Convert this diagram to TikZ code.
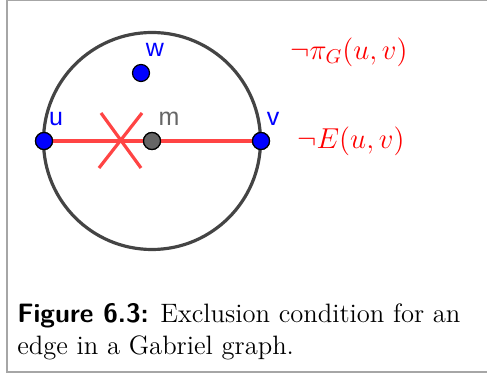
\documentclass[tikz,border=0pt]{standalone}
\usepackage{amsmath}
\usepackage{fontspec}
\newfontfamily\ptfont{Liberation Sans}
\usepackage{xcolor}
\usetikzlibrary{positioning}
\definecolor{ggblue}{RGB}{0,0,255}
\definecolor{ggred}{RGB}{255,68,68}
\definecolor{ggdark}{RGB}{68,68,68}
\definecolor{ggmid}{RGB}{102,102,102}

\begin{document}
\begin{tikzpicture}[x=0.5pt,y=-0.5pt]
\tikzstyle{pt}=[circle,draw=black,line width=0.6pt,fill=ggblue,inner sep=0pt,minimum size=8.5pt]
\tikzstyle{ptlabel}=[inner sep=0pt,font=\ptfont\fontsize{12.5}{14}\selectfont]
\tikzstyle{redline}=[draw=ggred,line width=1.6pt]
\useasboundingbox (0,0) rectangle (487,378);
% frame
\draw[gray!70,line width=0.8pt] (487,0.5) -- (7,0.5) -- (7,372) -- (487,372);
% circle through u and v
\draw[ggdark,line width=1.6pt] (152,141) circle[radius=54.25pt];
% points
\coordinate (xa) at (101,113);
\coordinate (xb) at (141,168);
\coordinate (xc) at (142,113);
\coordinate (xd) at (99,168);
\node[pt] (u) at (44,141) {};
\node[pt] (v) at (261,141) {};
\node[pt] (w) at (141,73) {};
\node[pt,fill=ggmid] (m) at (152,141) {};
\draw[redline] (u) -- (m) -- (v);
\draw[redline] (xa) -- (xb);
\draw[redline] (xc) -- (xd);
\node[pt] at (u) {};
\node[pt] at (v) {};
\node[pt,fill=ggmid] at (m) {};
% labels
\node[ptlabel,text=ggblue] (wl) at (155,50) {w};
\node[ptlabel,text=ggblue] (ul) at (56,119) {u};
\node[ptlabel,text=ggmid] (ml) at (169,119) {m};
\node[ptlabel,text=ggblue] (vl) at (273,119) {v};
% conditions
\node[text=red,inner sep=0pt,font=\fontsize{14}{17}\selectfont] (pic) at (349,52) {$\neg\pi_G(u,v)$};
\node[text=red,inner sep=0pt,font=\fontsize{14}{17}\selectfont] (nec) at (351,141) {$\neg E(u,v)$};
% caption
\node[anchor=north west,inner sep=0pt,align=left,font=\fontsize{13.3}{16}\selectfont] (cap) at (17,303)
  {{\sffamily\bfseries Figure 6.3:} Exclusion condition for an\\edge in a Gabriel graph.};
\end{tikzpicture}
\end{document}
